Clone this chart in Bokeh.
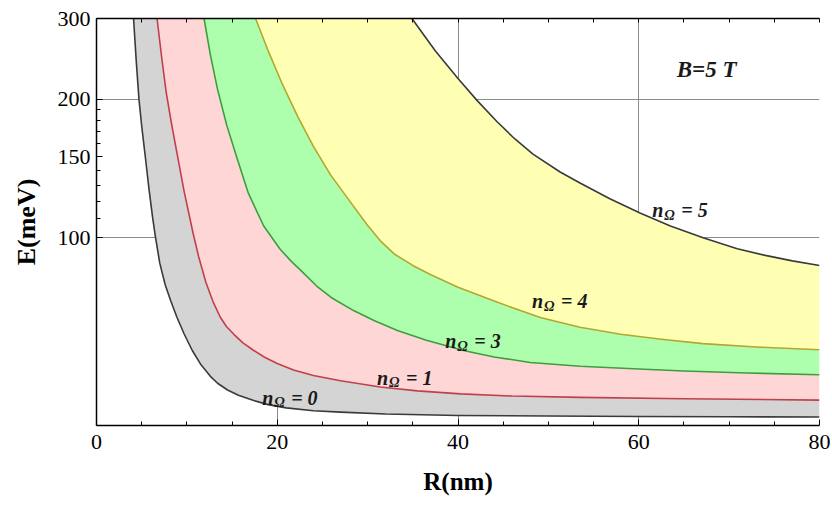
from bokeh.plotting import figure
from bokeh.models import Range1d, FixedTicker, LinearAxis, PrintfTickFormatter
from bokeh.embed import file_html
from bokeh.resources import INLINE
from bokeh.core.properties import value

# ---- data (R in nm, E in meV) ----
R_n0 = [4.1, 4.4, 4.7, 5.0, 5.4, 5.8, 6.2, 6.5, 7.0, 7.6, 8.2, 8.9, 9.7, 10.6, 11.5, 12.6, 13.4,
        14.5, 15.7, 17.4, 19.0, 21.0, 24.0, 27.0, 32.0, 40.0, 50.0, 60.0, 70.0, 80.0]
E_n0 = [300, 242, 200, 175, 150, 128, 111, 101, 88, 79, 73, 67.1, 61.7, 56.8, 53.1, 49.9, 48.2,
        46.6, 45.4, 44.2, 43.3, 42.6, 42.0, 41.7, 41.3, 41.0, 40.9, 40.8, 40.75, 40.7]

R_n1 = [6.7, 7.2, 7.7, 8.3, 8.9, 9.7, 10.7, 11.3, 12.1, 12.9, 13.7, 14.4, 15.2, 16.2, 17.4, 18.6,
        20.0, 21.8, 24.0, 27.0, 31.4, 35.5, 40.3, 46.0, 53.5, 65.0, 80.0]
E_n1 = [300, 248, 208, 177, 153, 126, 102, 91, 80, 72.5, 67.1, 64.0, 61.6, 59.0, 56.8, 54.9,
        53.2, 51.5, 50.1, 48.8, 47.3, 46.4, 45.7, 45.2, 44.9, 44.6, 44.3]

R_n3 = [11.9, 12.6, 13.4, 14.4, 15.5, 16.8, 18.5, 20.3, 21.5, 22.6, 24.5, 26.0, 28.5, 30.7, 33.3,
        36.5, 40.6, 44.0, 48.0, 53.5, 60.0, 65.0, 72.0, 80.0]
E_n3 = [300, 250, 210, 176, 150, 125, 106, 94.5, 89, 84.9, 78, 74, 69.3, 66.0, 62.8,
        59.8, 56.8, 55.0, 53.5, 52.5, 51.75, 51.25, 50.75, 50.3]

R_n4 = [17.6, 19.0, 20.6, 22.3, 24.0, 25.9, 27.9, 29.9, 31.5, 33.0, 35.0, 37.0, 40.0, 44.3, 49.1,
        53.5, 58.0, 62.5, 67.1, 73.0, 80.0]
E_n4 = [300, 255, 215, 183, 158, 137, 121, 107, 98, 92, 87, 83, 78, 72.4, 67.0,
        63.8, 61.6, 60.1, 58.8, 57.8, 57.0]

R_n5 = [34.9, 37.5, 40.0, 42.1, 44.3, 46.3, 48.3, 51.3, 53.5, 56.8, 60.2, 63.5, 67.2, 70.9, 74.0,
        77.0, 80.0]
E_n5 = [300, 255, 222, 199, 179, 164, 152, 139, 131.5, 121.5, 113, 106, 99.8, 94.6, 91.5,
        89, 87]

x_ticks = [0, 20, 40, 60, 80]
x_minor = [5, 10, 15, 25, 30, 35, 45, 50, 55, 65, 70, 75]
y_ticks = [100, 150, 200, 300]
y_minor = [110, 120, 130, 140, 160, 170, 180, 190]
label_nums = ["0", "1", "3", "4", "5"]

SERIF = "Liberation Serif"

p = figure(width=832, height=506, output_backend="svg", toolbar_location=None,
           x_range=Range1d(0, 80), y_range=Range1d(39, 300), y_axis_type="log",
           min_border_left=96, min_border_right=13, min_border_top=18, min_border_bottom=81)
p.outline_line_color = None
p.background_fill_color = "white"
p.border_fill_color = "white"

# grids
p.xgrid.ticker = FixedTicker(ticks=[20, 40, 60])
p.ygrid.ticker = FixedTicker(ticks=[100, 200])
for g in (p.xgrid, p.ygrid):
    g.grid_line_color = "#8a8a8a"
    g.grid_line_width = 1

# bands
fills = ["#d4d4d4", "#ffd6d6", "#adffad", "#ffffb4"]
curves = [(R_n0, E_n0), (R_n1, E_n1), (R_n3, E_n3), (R_n4, E_n4), (R_n5, E_n5)]
for i, col in enumerate(fills):
    (ra, ea), (rb, eb) = curves[i], curves[i + 1]
    p.patch(x=list(ra) + list(rb)[::-1], y=list(ea) + list(eb)[::-1],
            fill_color=col, line_color=None)

line_cols = ["#3a3a3a", "#c0404a", "#3f9c3f", "#b5a632", "#3a3a3a"]
for (r, e), c in zip(curves, line_cols):
    p.line(r, e, line_color=c, line_width=1.6, line_join="round")

# axes
def style_axis(ax, ticks, minor):
    ax.ticker = FixedTicker(ticks=ticks, minor_ticks=minor)
    ax.axis_line_color = "black"
    ax.axis_line_width = 1.5
    ax.major_tick_in = 6
    ax.major_tick_out = 0
    ax.minor_tick_in = 4
    ax.minor_tick_out = 0
    ax.major_tick_line_color = "black"
    ax.minor_tick_line_color = "black"
    ax.major_label_text_font = SERIF
    ax.major_label_text_font_size = "22px"
    ax.major_label_text_color = "black"
    ax.axis_label_text_font = SERIF
    ax.axis_label_text_font_style = "bold"
    ax.axis_label_text_color = "black"

style_axis(p.xaxis[0], x_ticks, x_minor)
style_axis(p.yaxis[0], y_ticks, y_minor)
p.xaxis[0].axis_label = "R(nm)"
p.yaxis[0].axis_label = "E(meV)"
p.xaxis[0].axis_label_text_font_size = "25px"
p.yaxis[0].axis_label_text_font_size = "26px"
p.yaxis[0].formatter = PrintfTickFormatter(format="%d")
p.xaxis[0].major_label_standoff = 9
p.xaxis[0].axis_label_standoff = 16
p.yaxis[0].major_label_standoff = 6
p.yaxis[0].axis_label_standoff = 14

# top frame line with inward ticks only (no labels)
top = LinearAxis()
style_axis(top, [], [0, 5, 10, 15, 20, 25, 30, 35, 40, 45, 50, 55, 60, 65, 70, 75, 80])
p.add_layout(top, "above")

# annotations
lab_pos = [(18.33, 44.85), (31.05, 49.5), (38.6, 59.5), (48.2, 72.7), (61.5, 114.7)]
for (r, e), k in zip(lab_pos, label_nums):
    common = dict(text_font=value(SERIF), text_font_style="bold italic",
                  text_color="#1a1a1a", text_baseline="alphabetic", text_align="left")
    p.text(x=[r], y=[e], text=["n"], text_font_size="20px", **common)
    p.text(x=[r], y=[e], text=["Ω"], x_offset=12, y_offset=5, text_font_size="14px", **common)
    p.text(x=[r], y=[e], text=["= " + k], x_offset=29, text_font_size="20px", **common)

p.text(x=[64.2], y=[232.3], text=["B=5 T"], text_font=value(SERIF),
       text_font_style="bold italic", text_font_size="23px", text_color="#1a1a1a",
       text_baseline="alphabetic", text_align="left")

open("out.html", "w").write(file_html(p, INLINE))
